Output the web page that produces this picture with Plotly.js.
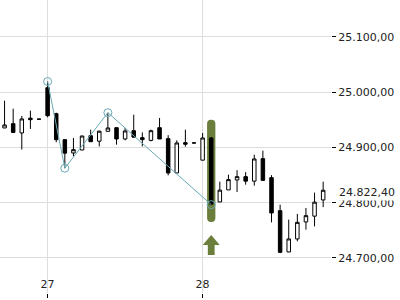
<!DOCTYPE html>
<html>
<head>
<meta charset="utf-8">
<script src="https://cdn.plot.ly/plotly-3.0.1.min.js"></script>
<style>html,body{margin:0;padding:0;background:#fff;}#chart{width:400px;height:300px;}</style>
</head>
<body>
<div id="chart"></div>
<script>
// candle index (one bar per period)
var idx = [0,1,2,3,4,5,6,7,8,9,10,11,12,13,14,15,16,17,18,19,20,21,22,23,24,25,26,27,28,29,30,31,32,33,34,35,36,37];
var open  = [24935.0,24942.8,24926.0,24952.7,24950.9,25007.8,24960.8,24913.9,24889.8,24895.2,24921.1,24911.1,24928.9,24935.5,24915.1,24930.1,24917.5,24912.6,24935.5,24915.7,24853.7,24908.4,24907.9,24876.8,24916.9,24801.3,24823.0,24841.0,24847.0,24838.9,24879.5,24845.2,24785.5,24710.9,24734.4,24765.1,24775.6,24804.9];
var high  = [24984.3,24969.9,24956.7,24966.3,24950.9,25019.0,24962.6,24913.9,24916.9,24921.0,24931.9,24930.1,24962.6,24936.0,24935.0,24959.0,24927.0,24931.9,24953.1,24922.0,24912.6,24931.9,24907.9,24926.0,24918.7,24838.0,24850.6,24858.7,24855.1,24886.7,24894.0,24849.7,24796.4,24769.3,24779.6,24790.4,24818.1,24838.0];
var low   = [24935.0,24926.5,24896.0,24933.2,24950.9,24954.2,24909.3,24862.3,24883.7,24895.0,24910.0,24901.7,24928.9,24904.8,24912.6,24918.0,24901.7,24910.8,24915.0,24849.3,24853.5,24901.2,24907.9,24876.5,24796.4,24801.0,24823.0,24819.3,24832.5,24830.7,24840.0,24764.4,24708.7,24710.5,24730.1,24751.2,24757.2,24791.9];
var close = [24940.4,24927.0,24951.3,24950.0,24950.9,24957.2,24913.9,24889.5,24895.8,24920.5,24910.2,24929.2,24935.0,24915.1,24929.6,24918.4,24913.9,24930.1,24915.1,24853.7,24907.9,24905.7,24907.9,24916.9,24797.3,24822.6,24841.6,24847.0,24838.9,24879.0,24840.3,24781.4,24710.2,24734.4,24764.4,24776.5,24800.9,24822.4];

// zigzag pivots (candle index, pivot price)
var zzIdx = [5, 7, 12, 24];
var zzVal = [high[5], low[7], high[12], low[24]];

// signal highlight on one candle
var sigIdx = 24;
var sigLow = 24765.1;
var sigHigh = 24950.0;

// x ticks
var dayTickIdx = [5, 23];
var dayTickText = ['27', '28'];

// price axis ticks
var priceTicks = [24700, 24800, 24900, 25000, 25100];

var lastPrice = close[close.length - 1];
var lastPriceText = lastPrice.toFixed(2).replace('.', ',').replace(/\B(?=(\d{3})+(?!\d))/, '.');

var green = '#6b7e3b';
var teal = '#6aa9b4';
var font = {family: 'DejaVu Sans', size: 11, color: '#222'};

var traces = [
  {
    type: 'bar', x: [sigIdx], base: [sigLow], y: [sigHigh - sigLow], width: 0.96,
    marker: {color: green, line: {width: 0}, cornerradius: 4},
    hoverinfo: 'skip', showlegend: false
  },
  {
    type: 'candlestick', x: idx, open: open, high: high, low: low, close: close,
    increasing: {line: {color: '#000', width: 1}, fillcolor: '#ffffff'},
    decreasing: {line: {color: '#000', width: 1}, fillcolor: '#000000'},
    whiskerwidth: 0, hoverinfo: 'skip', showlegend: false
  },
  {
    type: 'scatter', mode: 'lines+markers', x: zzIdx, y: zzVal,
    line: {color: teal, width: 1},
    marker: {symbol: 'circle-open', size: 8, color: teal, line: {width: 1, color: teal}},
    hoverinfo: 'skip', showlegend: false
  }
];

var layout = {
  width: 400, height: 300,
  margin: {l: 0, r: 69, t: 0, b: 0, pad: 0},
  paper_bgcolor: '#fff', plot_bgcolor: '#fff',
  separators: ',.',
  showlegend: false,
  boxgap: 0.42,
  font: font,
  xaxis: {
    range: [-0.53, 37.91], rangeslider: {visible: false},
    tickvals: dayTickIdx, ticktext: dayTickText,
    showgrid: true, gridcolor: '#dddddd', gridwidth: 1,
    zeroline: false, showline: false,
    ticks: 'outside', ticklen: 4, tickcolor: '#000', tickwidth: 1,
    ticklabelposition: 'inside', tickfont: font
  },
  yaxis: {
    domain: [7/300, 1],
    range: [24636.7, 25166.3], side: 'right',
    tickvals: priceTicks, tickformat: ',.2f',
    showgrid: true, gridcolor: '#dddddd', gridwidth: 1,
    zeroline: false, showline: false,
    ticks: 'outside', ticklen: 4, tickcolor: '#000', tickwidth: 1,
    tickfont: font
  },
  annotations: [{
    xref: 'paper', yref: 'y', x: 1, y: lastPrice, xanchor: 'left', yanchor: 'middle',
    xshift: 6, yshift: -2,
    text: lastPriceText,
    showarrow: false, font: font, bgcolor: '#ffffff', borderpad: 1
  }],
  shapes: [{
    type: 'path', layer: 'above',
    xref: 'x', yref: 'y', xsizemode: 'pixel', ysizemode: 'pixel',
    xanchor: sigIdx, yanchor: sigLow,
    path: 'M0,-13L8.5,-23L3.4,-23L3.4,-33L-3.4,-33L-3.4,-23L-8.5,-23Z',
    fillcolor: green, line: {width: 0}
  }]
};

Plotly.newPlot('chart', traces, layout, {staticPlot: true, displayModeBar: false});
</script>
</body>
</html>
